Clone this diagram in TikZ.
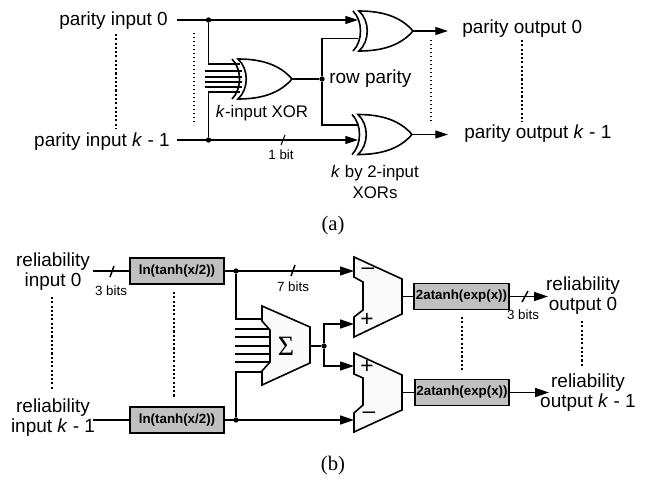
\documentclass[tikz,border=0pt]{standalone}
\usepackage{xcolor}
\usepackage{fontspec}
\setmainfont{Liberation Sans}
\newfontfamily\capfont{Liberation Serif}
\usepackage{tikz}
\usetikzlibrary{positioning,arrows.meta,calc}
\definecolor{boxgray}{RGB}{192,192,192}
\definecolor{muxgray}{RGB}{250,250,250}
\tikzset{
    label/.style={inner sep=0pt, align=center, font=\fontsize{14.2}{15}\selectfont},
    smalllabel/.style={inner sep=0pt, align=center, font=\fontsize{12.6}{16}\selectfont},
    bitlabel/.style={inner sep=0pt, font=\fontsize{10}{12}\selectfont},
    signlabel/.style={inner sep=0pt, font=\fontsize{17}{17}\selectfont},
    caption/.style={inner sep=0pt, font=\fontsize{15.5}{17}\capfont},
    funcbox/.style={draw=black, fill=boxgray, line width=1.3pt, inner sep=0pt, minimum width=71pt, minimum height=19.5pt, font=\fontsize{10}{12}\selectfont\bfseries},
    wire/.style={draw=black, line width=0.8pt},
    buswire/.style={draw=black, line width=1.1pt},
    arrow/.style={-{Triangle[length=9.5pt,width=6pt]}, line width=0.8pt, draw=black},
    busarrow/.style={-{Triangle[length=10.5pt,width=6.8pt]}, line width=1.1pt, draw=black},
    dot/.style={circle, fill=black, inner sep=0pt, minimum size=4pt},
    bigdots/.style={draw=black, line width=1.6pt, dash pattern=on 1.6pt off 1.6pt},
    thindots/.style={draw=black, line width=0.8pt, dash pattern=on 1pt off 2pt},
    mux/.style={draw=black, fill=muxgray, line width=1.2pt, line join=miter},
    xorgate/.pic={
        \draw[line width=1.2pt, fill=white] (-54,-20) .. controls (-30,-20) and (-12,-14) .. (0,0) .. controls (-12,14) and (-30,20) .. (-54,20) .. controls (-43,10) and (-43,-10) .. (-54,-20) -- cycle;
        \draw[line width=1.2pt] (-60,-20) .. controls (-50,-10) and (-50,10) .. (-60,20);
    }
}

\begin{document}
\begin{tikzpicture}[x=0.75pt,y=-0.75pt]
\useasboundingbox (0,0) rectangle (647,479);

\node[label, anchor=east] (pin0) at (168,21) {parity input 0};
\node[label, anchor=east] (pink) at (170,142) {parity input \textit{k} - 1};
\node[label, anchor=west] (pout0) at (462,29) {parity output 0};
\node[label, anchor=west] (poutk) at (464,134) {parity output \textit{k} - 1};
\node[smalllabel] (klabel) at (262,113) {\textit{k}-input XOR};
\node[label, anchor=west] (rowlabel) at (329,79) {row parity};
\node[smalllabel] (twolabel) at (375,182) {\textit{k} by 2-input\\XORs};
\node[bitlabel] (onebit) at (281,155) {1 bit};
\node[caption] (capa) at (333,226) {(a)};

\coordinate (pa0) at (177,20);
\coordinate (pak) at (177,140);
\node[dot] (ja0) at (208.5,20) {};
\node[dot] (jak) at (208.5,140) {};
\coordinate (xa0) at (358,20);
\coordinate (xak) at (358,140);
\coordinate (bigup) at (240,64);
\coordinate (bigdn) at (240,92);
\coordinate (bigout) at (292,79);
\node[dot] (jrow) at (322,79) {};
\coordinate (rowup) at (358,38.5);
\coordinate (rowdn) at (358,125);
\coordinate (topxor) at (413,31);
\coordinate (botxor) at (412,134.5);
\coordinate (topout) at (448,31);
\coordinate (botout) at (448,134.5);

\draw[arrow] (pa0) -- (xa0);
\draw[arrow] (pak) -- (xak);
\draw[wire] (ja0) |- (bigup);
\draw[wire] (jak) |- (bigdn);
\foreach \i/\y in {1/71,2/77,3/82,4/87} {
    \coordinate (xl\i) at (205,\y);
    \coordinate (xr\i) at (242,\y);
    \draw[wire] (xl\i) -- (xr\i);
}
\draw[wire] (bigout) -- (jrow);
\draw[wire] (rowup) -| (jrow) |- (rowdn);
\draw[arrow] (topxor) -- (topout);
\draw[arrow] (botxor) -- (botout);
\draw[wire] (281,145) -- (285,135);
\pic at (bigout) {xorgate};
\pic at (topxor) {xorgate};
\pic at (botxor) {xorgate};

\draw[bigdots] (116,34) -- (116,128);
\draw[thindots] (194,33) -- (194,125);
\draw[thindots] (431,40) -- (431,122);
\draw[bigdots] (522,40) -- (522,122);

\node[label] (rin0) at (53,272) {reliability\\input 0};
\node[label] (rink) at (53,418) {reliability\\input \textit{k} - 1};
\node[label] (rout0) at (583,296) {reliability\\output 0};
\node[label] (routk) at (588,393) {reliability\\output \textit{k} - 1};
\node[funcbox] (ln0) at (177,271) {ln(tanh(x/2))};
\node[funcbox] (lnk) at (177,420) {ln(tanh(x/2))};
\node[funcbox] (at0) at (461.5,296.5) {2atanh(exp(x))};
\node[funcbox] (atk) at (462,392.5) {2atanh(exp(x))};
\node[bitlabel] (threea) at (111,291) {3 bits};
\node[bitlabel] (seven) at (293,287) {7 bits};
\node[bitlabel] (threeb) at (523,315) {3 bits};
\node[caption] (capb) at (333,466) {(b)};

\coordinate (ra0) at (93,271);
\coordinate (rak) at (93,420);
\node[dot] (jb0) at (236,271) {};
\node[dot] (jbk) at (236,420) {};
\coordinate (ma0) at (354,271);
\coordinate (mak) at (354,420);
\coordinate (sumup) at (264,319);
\coordinate (sumdn) at (264,372);
\coordinate (sumout) at (310,346);
\node[dot] (jsum) at (324,346) {};
\coordinate (mup) at (354,324);
\coordinate (mdn) at (354,366);
\coordinate (m0out) at (402,296.5);
\coordinate (mkout) at (402,392.5);
\coordinate (rend0) at (548,296.5);
\coordinate (rendk) at (549,392.5);

\draw[buswire] (ra0) -- (ln0);
\draw[buswire] (rak) -- (lnk);
\draw[busarrow] (ln0) -- (ma0);
\draw[busarrow] (lnk) -- (mak);
\draw[buswire] (jb0) |- (sumup);
\draw[buswire] (jbk) |- (sumdn);
\foreach \i/\y in {1/329,2/337,3/346,4/354,5/362} {
    \coordinate (sl\i) at (235,\y);
    \coordinate (sr\i) at (271,\y);
    \draw[buswire] (sl\i) -- (sr\i);
}
\draw[buswire] (sumout) -- (jsum);
\draw[busarrow] (jsum) |- (mup);
\draw[busarrow] (jsum) |- (mdn);
\draw[buswire] (m0out) -- (at0);
\draw[buswire] (mkout) -- (atk);
\draw[busarrow] (at0) -- (rend0);
\draw[busarrow] (atk) -- (rendk);
\draw[buswire] (110,277) -- (114,266);
\draw[buswire] (291,276) -- (295,265);
\draw[buswire] (522,302) -- (528,291);

\draw[mux] (262,306) -- (310,327) -- (310,363) -- (262,385) -- (262,371) -- (270,362) -- (270,330) -- (262,321) -- cycle;
\draw[mux] (354,257) -- (402,279) -- (402,314) -- (354,337) -- (354,317) -- (363,310) -- (363,282) -- (354,277) -- cycle;
\draw[mux] (354,353) -- (402,375) -- (402,410) -- (354,432) -- (354,413) -- (363,405) -- (363,378) -- (354,374) -- cycle;
\node[inner sep=0pt, font=\fontsize{21}{21}\capfont] (sumsign) at (286,346) {Σ};
\node[signlabel] (minus0) at (368,271) {--};
\node[signlabel] (plus0) at (367,320) {+};
\node[signlabel] (plus1) at (367,367) {+};
\node[signlabel] (minus1) at (369,415) {--};

\draw[bigdots] (52,297) -- (52,390);
\draw[bigdots] (174,292) -- (174,398);
\draw[bigdots] (462,317) -- (462,372);
\draw[bigdots] (582,321) -- (582,367);
\end{tikzpicture}
\end{document}
